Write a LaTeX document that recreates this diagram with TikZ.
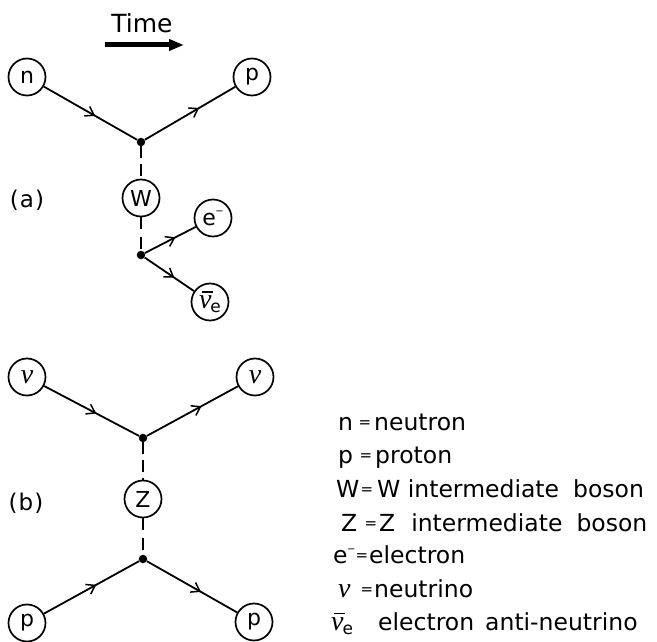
\documentclass[tikz,border=0pt]{standalone}
\usepackage{fontspec}
\setmainfont{DejaVu Sans}
\newfontfamily\grk{Liberation Serif}
\usetikzlibrary{arrows.meta,decorations.markings}
\newcommand{\nusym}{{\grk\itshape\fontsize{28}{30}\selectfont ν}}
\newcommand{\nubar}{\makebox[0pt][l]{\kern3pt\rule[16pt]{11pt}{1.4pt}}\nusym\kern-1pt\raisebox{-4pt}{\fontsize{17}{18}\selectfont e}}
\newcommand{\elminus}{e\kern-0.5pt\raisebox{11pt}{\fontsize{10}{10}\selectfont −}}
\tikzset{
  particle/.style={circle,draw,line width=1.7pt,minimum size=37pt,inner sep=0pt,font=\fontsize{22}{26}\selectfont},
  vertexdot/.style={circle,fill,inner sep=0pt,minimum size=8.5pt},
  fermion/.style={line width=1.8pt,postaction={decorate},decoration={markings,mark=at position #1 with {\arrow{Straight Barb[length=8pt,width=11pt,line width=1.5pt]}}}},
  bosontop/.style={line width=1.8pt,dash pattern=on 12pt off 6pt},
  bosonbot/.style={line width=1.8pt,dash pattern=on 12pt off 8pt},
  lbl/.style={font=\fontsize{23}{27}\selectfont,inner sep=0pt},
  legend/.style={font=\fontsize{23.5}{28}\selectfont,inner sep=0pt,anchor=base west},
  eqsign/.style={font=\fontsize{15}{17}\selectfont,inner sep=0pt,anchor=base}
}
\begin{document}
\begin{tikzpicture}[x=1pt,y=-1pt]
\useasboundingbox (0,0) rectangle (657,642);
% time arrow
\node[font=\fontsize{25}{30}\selectfont,inner sep=0pt,anchor=base] (time) at (142,33) {Time};
\coordinate (t1) at (105,45);
\coordinate (t2) at (184,45);
\draw[line width=5pt,-{Triangle[length=15pt,width=11pt]}] (t1) -- (t2);
% (a)
\node[particle] (n) at (27,77) {n};
\node[particle] (pa) at (252,77) {p};
\node[vertexdot] (va) at (141,142) {};
\node[particle] (W) at (141,198) {W};
\node[vertexdot] (vb) at (141,255) {};
\node[particle] (em) at (213,218) {\elminus};
\node[particle] (nub) at (210,302) {\nubar};
\node[lbl] (la) at (27,200) {(\kern1pt a\kern1pt)};
\draw[fermion=0.55] (n) -- (va);
\draw[fermion=0.6] (va) -- (pa);
\draw[bosontop] (va) -- (W);
\draw[bosonbot] (W) -- (vb);
\draw[fermion=0.6] (vb) -- (em);
\draw[fermion=0.6] (vb) -- (nub);
% (b)
\node[particle] (nu1) at (27,377) {\nusym};
\node[particle] (nu2) at (255,377) {\nusym};
\node[vertexdot] (vc) at (143,438) {};
\node[particle] (Z) at (143,499) {Z};
\node[vertexdot] (vd) at (143,559) {};
\node[particle] (p1) at (27,623) {p};
\node[particle] (p2) at (254,622) {p};
\node[lbl] (lb) at (26,503) {(\kern1pt b\kern1pt)};
\draw[fermion=0.55] (nu1) -- (vc);
\draw[fermion=0.6] (vc) -- (nu2);
\draw[bosontop] (vc) -- (Z);
\draw[bosonbot] (Z) -- (vd);
\draw[fermion=0.55] (p1) -- (vd);
\draw[fermion=0.6] (vd) -- (p2);
% legend
\node[legend] (s1) at (338,430) {n};
\node[eqsign] (e1) at (365,427) {=};
\node[legend] (d1) at (374,430) {neutron};
\node[legend] (s2) at (338,463) {p};
\node[eqsign] (e2) at (366,460) {=};
\node[legend] (d2) at (375,463) {proton};
\node[legend] (s3) at (336,497) {W};
\node[eqsign] (e3) at (367,494) {=};
\node[legend] (d3) at (377,497) {W intermediate\hspace{14pt}boson};
\node[legend] (s4) at (341,531) {Z};
\node[eqsign] (e4) at (371,528) {=};
\node[legend] (d4) at (379,531) {Z\hspace{16pt}intermediate\hspace{14pt}boson};
\node[legend] (s5) at (333,563) {\elminus};
\node[eqsign] (e5) at (362,560) {=};
\node[legend] (d5) at (369,563) {electron};
\node[legend] (s6) at (338,597) {\nusym};
\node[eqsign] (e6) at (367,594) {=};
\node[legend] (d6) at (374,597) {neutrino};
\node[legend] (s7) at (331,630) {\nubar};
\node[legend] (d7) at (378,630) {electron\hspace{11pt}anti-neutrino};
\end{tikzpicture}
\end{document}
